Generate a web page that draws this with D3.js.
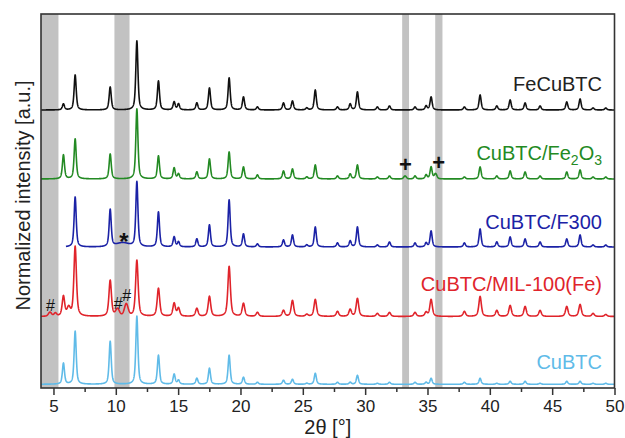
<!DOCTYPE html>
<html><head><meta charset="utf-8">
<script src="https://cdn.jsdelivr.net/npm/d3@7"></script>
<style>
body{margin:0;background:#fff;}
svg{display:block;}
text{font-family:"Liberation Sans",Arial,Helvetica,sans-serif;}
</style>
</head><body>
<svg id="chart" width="625" height="438"></svg>
<script>
// ---- data ----
const seriesNames = ["CuBTC", "CuBTC/MIL-100(Fe)", "CuBTC/F300", "CuBTC/Fe2O3", "FeCuBTC"];
// common reflection positions (2θ, degrees)
const peakPositions = [5.80, 6.74, 9.55, 11.69, 13.42, 14.68, 15.03, 16.50, 17.51, 19.09, 20.24, 21.36, 23.45, 24.17, 25.32, 26.00, 27.78, 28.80, 29.38, 30.98, 31.95, 34.00, 34.89, 35.29, 37.96, 39.22, 40.56, 41.63, 42.83, 44.03, 46.17, 47.24, 48.28, 49.30];
// peak intensities per series (normalized, a.u.)
const intCuBTC   = [21, 53, 43, 68, 29, 10, 4, 6, 16, 29, 7, 2, 4, 5, 1, 11, 2, 2, 9, 1, 2, 2, 2, 6, 2, 6, 1, 3, 3, 1, 3, 3, 1, 1];
const intMIL     = [20, 70, 36, 56, 28, 13, 8, 8, 20, 50, 13, 4, 6, 16, 2, 17, 5, 7, 18, 3, 4, 4, 4, 17, 5, 20, 6, 11, 10, 6, 10, 12, 3, 2];
const intF300    = [0, 50, 37, 65, 35, 10, 5, 8, 22, 47, 13, 3, 7, 12, 2, 20, 4, 6, 20, 2, 5, 4, 4, 16, 4, 18, 5, 10, 8, 5, 8, 12, 2, 2];
const intFe2O3   = [24, 40, 25, 70, 23, 11, 5, 7, 20, 27, 12, 4, 8, 10, 2, 14, 3, 5, 14, 2, 3, 3, 4, 12, 2, 12, 3, 8, 7, 3, 7, 9, 2, 2];
const intFeCuBTC = [6, 35, 23, 69, 29, 8, 6, 7, 22, 32, 13, 3, 7, 9, 2, 20, 3, 6, 18, 3, 4, 3, 4, 13, 3, 15, 4, 10, 7, 4, 8, 11, 2, 2];
// additional phase reflections
const extraPos    = [4.72, 5.15, 6.22, 10.14, 10.84, 10.55, 33.20, 35.65];
const extraInt    = [4, 3, 8, 7, 12, 4, 3, 5];
const extraWidth  = [0.3, 0.25, 0.3, 0.35, 0.35, 1.2, 0.25, 0.25];
const extraSeries = [1, 1, 1, 1, 1, 2, 3, 3];
const seriesStart = [4.0, 4.0, 6.0, 4.0, 4.0];
const xTicks = [5, 10, 15, 20, 25, 30, 35, 40, 45, 50];
const xMinorTicks = [7.5, 12.5, 17.5, 22.5, 27.5, 32.5, 37.5, 42.5, 47.5];
const bandRanges = [[4.0, 5.4], [9.89, 11.1], [32.97, 33.52], [35.62, 36.2]];
const markerText = ["#", "#", "#", "*", "+", "+"];
const markerPos  = [4.75, 10.2, 10.87, 10.65, 33.23, 35.9];

// ---- styles / layout ----
const intensities = [intCuBTC, intMIL, intF300, intFe2O3, intFeCuBTC];
const colors = ["#60bbe8", "#e0242b", "#1b22a6", "#238a23", "#111111"];
const offsets = [3.7, 71.5, 141, 209, 278];
const peakWidth = [0.2, 0.24, 0.2, 0.2, 0.2];
const labelY = [369, 290.5, 228.8, 159.5, 91];
const markerY = [311, 309, 301, 249.5, 171.5, 170];
const markerSize = [16, 16, 16, 24, 22, 22];

const svg = d3.select("#chart");
const L = 41, R = 614.5, T = 14, B = 388;
const x = d3.scaleLinear().domain([4, 50]).range([L, R]);
const y = d3.scaleLinear().domain([0, 374]).range([B, T]);

// grey bands
svg.append("g").selectAll("rect").data(bandRanges).join("rect")
  .attr("x", d => x(d[0])).attr("width", d => x(d[1]) - x(d[0]))
  .attr("y", T).attr("height", B - T).attr("fill", "#c2c2c2");

function pv(t, c, w, eta) {
  const u = (t - c) / (w / 2);
  return eta / (1 + u * u) + (1 - eta) * Math.exp(-Math.LN2 * u * u);
}

svg.append("clipPath").attr("id", "clip").append("rect")
  .attr("x", L).attr("y", 0).attr("width", R - L).attr("height", B);

const lines = svg.append("g").attr("clip-path", "url(#clip)");
seriesNames.forEach((name, si) => {
  const pts = [];
  for (let t = seriesStart[si]; t <= 50.0001; t += 0.01) {
    let v = 0;
    peakPositions.forEach((p, k) => {
      const h = intensities[si][k];
      if (h > 0) v += h * pv(t, p, peakWidth[si], 0.6);
    });
    extraSeries.forEach((s, k) => {
      if (s === si) v += extraInt[k] * pv(t, extraPos[k], extraWidth[k], 0.3);
    });
    pts.push([t, v + offsets[si]]);
  }
  lines.append("path").datum(pts)
    .attr("fill", "none").attr("stroke", colors[si]).attr("stroke-width", 1.6)
    .attr("stroke-linejoin", "round")
    .attr("d", d3.line().x(d => x(d[0])).y(d => y(d[1])));
});

// series labels
const lab = svg.append("g").attr("font-size", 20).attr("text-anchor", "end");
seriesNames.forEach((name, si) => {
  const t = lab.append("text").attr("x", 602).attr("y", labelY[si]).attr("fill", colors[si] === "#111111" ? "#222" : colors[si]);
  if (name === "CuBTC/Fe2O3") {
    t.append("tspan").text("CuBTC/Fe");
    t.append("tspan").attr("font-size", 14).attr("dy", 5).text("2");
    t.append("tspan").attr("dy", -5).text("O");
    t.append("tspan").attr("font-size", 14).attr("dy", 5).text("3");
  } else {
    t.text(name);
  }
});

// phase markers
svg.append("g").selectAll("text").data(markerText).join("text")
  .attr("x", (d, i) => x(markerPos[i])).attr("y", (d, i) => markerY[i])
  .attr("text-anchor", "middle")
  .attr("font-size", (d, i) => markerSize[i])
  .attr("font-weight", d => d === "#" ? "normal" : "bold")
  .attr("fill", "#111").text(d => d);

// frame
svg.append("rect").attr("x", L).attr("y", T).attr("width", R - L).attr("height", B - T)
  .attr("fill", "none").attr("stroke", "#333").attr("stroke-width", 1.6);

// x axis
const ax = svg.append("g").attr("transform", `translate(0,${B})`)
  .call(d3.axisBottom(x).tickValues(xTicks).tickSize(7).tickPadding(5).tickFormat(d3.format("d")));
ax.select(".domain").remove();
ax.selectAll("line").attr("stroke", "#333").attr("stroke-width", 1.5);
ax.selectAll("text").attr("font-size", 17).attr("fill", "#222")
  .attr("font-family", "'Liberation Sans',Arial,sans-serif");
const axm = svg.append("g").attr("transform", `translate(0,${B})`)
  .call(d3.axisBottom(x).tickValues(xMinorTicks).tickSize(4).tickFormat(""));
axm.select(".domain").remove();
axm.selectAll("line").attr("stroke", "#333").attr("stroke-width", 1.5);

// axis titles
svg.append("text").attr("x", (L + R) / 2).attr("y", 434).attr("text-anchor", "middle")
  .attr("font-size", 20).attr("fill", "#222").text("2θ [°]");
svg.append("text").attr("transform", "translate(30,195.5) rotate(-90)")
  .attr("text-anchor", "middle").attr("font-size", 20).attr("fill", "#222")
  .text("Normalized intensity [a.u.]");
</script>
</body></html>
